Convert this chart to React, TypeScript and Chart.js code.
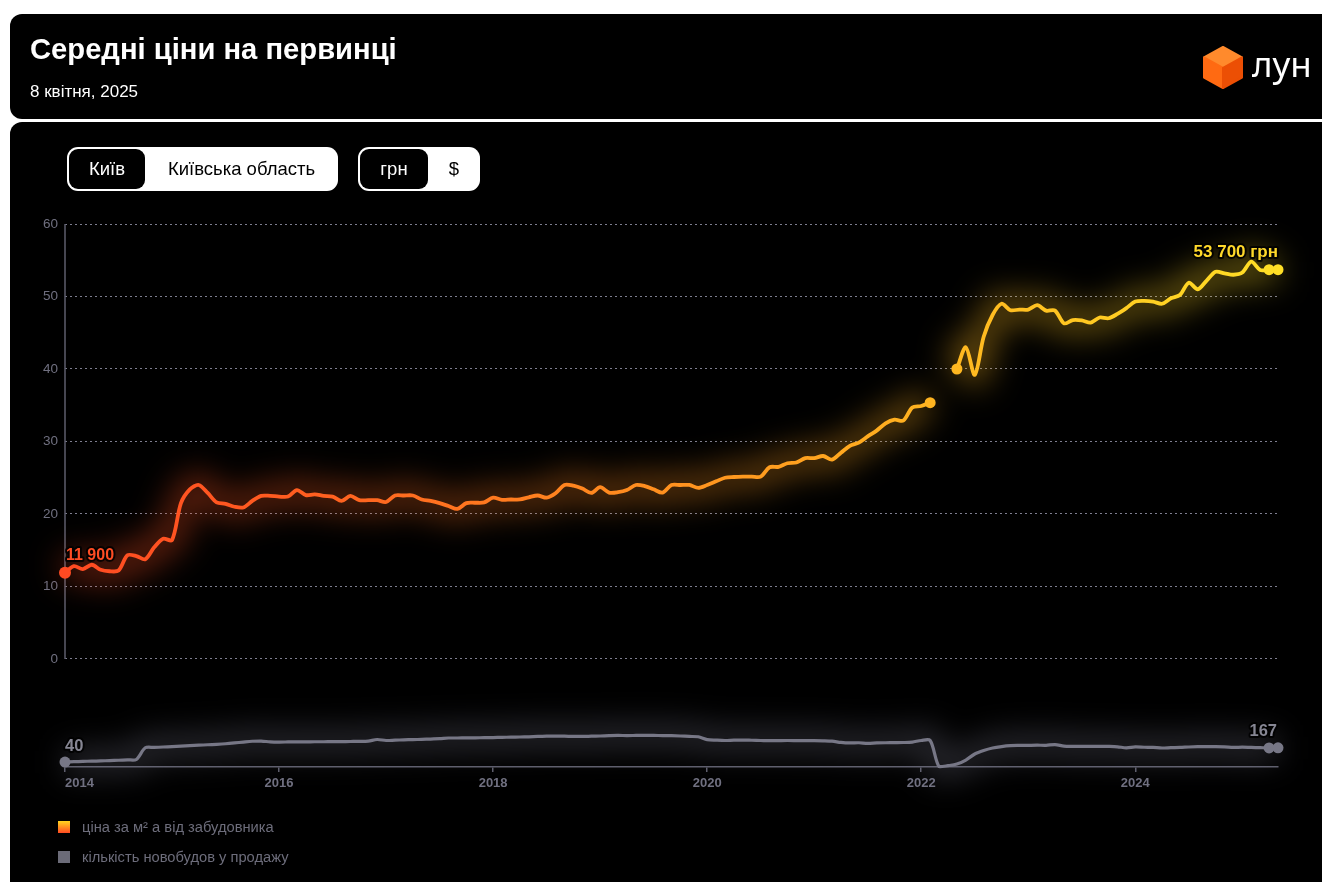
import React, { useEffect, useRef } from 'react';
import { Chart, registerables } from 'chart.js';

Chart.register(...registerables);

const FONT = "'Liberation Sans', Arial, Helvetica, sans-serif";

// ---- data ----
const xTickIndex = [0, 24, 48, 72, 96, 120];
const xTickLabels = ['2014', '2016', '2018', '2020', '2022', '2024'];
const yTicks = [0, 10, 20, 30, 40, 50, 60];

// average price, thousand UAH per m², monthly from Jan 2014
const priceThousands: (number | null)[] = [
  11.9, 12.8, 12.4, 13.0, 12.3, 12.1, 12.2, 14.3, 14.2, 13.75,
  15.4, 16.6, 16.4, 21.5, 23.4, 24.0, 22.9, 21.6, 21.4, 21.0,
  20.9, 21.8, 22.5, 22.5, 22.4, 22.4, 23.3, 22.6, 22.7, 22.5,
  22.4, 21.8, 22.5, 21.9, 21.9, 21.9, 21.65, 22.55, 22.55, 22.55,
  22.0, 21.8, 21.5, 21.1, 20.7, 21.5, 21.55, 21.6, 22.25, 21.95,
  22.0, 22.0, 22.3, 22.55, 22.25, 22.85, 24.0, 23.9, 23.5, 22.9,
  23.7, 22.95, 23.0, 23.3, 24.0, 23.85, 23.4, 22.95, 24.0, 24.0,
  24.0, 23.6, 24.0, 24.5, 25.0, 25.1, 25.15, 25.15, 25.15, 26.45,
  26.5, 27.0, 27.1, 27.7, 27.7, 28.0, 27.5, 28.45, 29.4, 29.85,
  30.7, 31.5, 32.5, 33.0, 32.9, 34.7, 34.9, 35.35, null, null,
  40.0, 43.0, 39.2, 44.45, 47.45, 49.0, 48.1, 48.2, 48.2, 48.8,
  48.05, 48.05, 46.3, 46.75, 46.7, 46.4, 47.1, 47.0, 47.6, 48.4,
  49.3, 49.4, 49.3, 49.0, 49.75, 50.2, 51.9, 51.0, 52.2, 53.4,
  53.2, 53.0, 53.3, 54.8, 53.65, 53.7, 53.7,
];

// number of new buildings on sale
const listings: number[] = [
  40, 43, 46, 48, 50, 53, 56, 60, 63, 167,
  170, 174, 178, 182, 186, 190, 194, 198, 203, 210,
  218, 225, 227, 220, 218, 219, 220, 220, 221, 221,
  222, 222, 223, 224, 227, 241, 232, 235, 238, 240,
  242, 245, 248, 254, 254, 255, 256, 257, 258, 260,
  262, 263, 265, 268, 270, 271, 270, 268, 268, 270,
  272, 275, 277, 276, 277, 278, 277, 276, 275, 272,
  268, 265, 240, 235, 232, 235, 236, 234, 232, 230,
  231, 232, 231, 230, 230, 229, 226, 215, 210, 212,
  206, 210, 212, 213, 214, 218, 232, 232, 0, 8,
  22, 58, 112, 143, 165, 178, 186, 188, 189, 190,
  189, 196, 182, 180, 179, 179, 180, 179, 176, 167,
  175, 172, 170, 165, 168, 170, 174, 177, 178, 178,
  176, 170, 173, 170, 168, 166, 167,
];

const legendLabels = ['ціна за м² а від забудовника', 'кількість новобудов у продажу'];

// ---- styles ----
const PRICE_STOPS: [number, string][] = [
  [0, '#ff4a22'], [0.2, '#ff5e20'], [0.4, '#ff821f'], [0.6, '#ffa01f'],
  [0.72, '#ffb520'], [0.86, '#ffcb22'], [1, '#ffdf26'],
];
const GREY_LINE = '#777786';
const AXIS = '#5e5e6c';
const TICK_TEXT = '#707080';

function rgba(hex: string, a: number) {
  const n = parseInt(hex.slice(1), 16);
  return `rgba(${(n >> 16) & 255},${(n >> 8) & 255},${n & 255},${a})`;
}

function priceGradient(chart: any, alpha: number) {
  const area = chart.chartArea;
  if (!area) return rgba('#ff8a1f', alpha);
  const g = chart.ctx.createLinearGradient(area.left, 0, area.right, 0);
  PRICE_STOPS.forEach(([o, c]) => g.addColorStop(o, rgba(c, alpha)));
  return g;
}

function fmtThousands(n: number) {
  return String(Math.round(n)).replace(/\B(?=(\d{3})+(?!\d))/g, ' ');
}

function isMarker(arr: (number | null)[], i: number) {
  const v = arr[i];
  if (v == null) return false;
  const last = arr.length - 1;
  return i === 0 || i === last || i === last - 1 || arr[i - 1] == null || arr[i + 1] == null;
}

function drawLabel(ctx: CanvasRenderingContext2D, text: string, x: number, y: number, color: string, align: CanvasTextAlign, size: number) {
  ctx.save();
  ctx.font = `bold ${size}px ${FONT}`;
  ctx.textAlign = align;
  ctx.textBaseline = 'alphabetic';
  ctx.lineJoin = 'round';
  ctx.lineWidth = 4;
  ctx.strokeStyle = 'rgba(0,0,0,0.85)';
  ctx.strokeText(text, x, y);
  ctx.fillStyle = color;
  ctx.fillText(text, x, y);
  ctx.restore();
}

const glowPlugin = {
  id: 'glow',
  beforeDatasetDraw(chart: any, args: any) {
    const ds = chart.data.datasets[args.index];
    if (ds.glowBlur) {
      chart.ctx.save();
      chart.ctx.filter = `blur(${ds.glowBlur}px)`;
    }
  },
  afterDatasetDraw(chart: any, args: any) {
    const ds = chart.data.datasets[args.index];
    if (ds.glowBlur) chart.ctx.restore();
  },
};

const decorPlugin = {
  id: 'decor',
  beforeDatasetsDraw(chart: any) {
    const { ctx, chartArea, scales } = chart;
    const y = scales.y;
    ctx.save();
    ctx.strokeStyle = AXIS;
    ctx.lineWidth = 1.5;
    ctx.beginPath();
    ctx.moveTo(chartArea.left, y.getPixelForValue(yTicks[yTicks.length - 1]));
    ctx.lineTo(chartArea.left, y.getPixelForValue(yTicks[0]));
    ctx.stroke();
    ctx.restore();
  },
  afterDatasetsDraw(chart: any) {
    const { ctx, scales } = chart;
    const { x, y, y2 } = scales;
    const last = priceThousands.length - 1;
    const p0 = priceThousands[0] as number;
    const pl = priceThousands[last] as number;
    drawLabel(ctx, fmtThousands(p0 * 1000), x.getPixelForValue(0) + 1, y.getPixelForValue(p0) - 13, '#ff4d24', 'left', 16);
    drawLabel(ctx, fmtThousands(pl * 1000) + ' грн', x.getPixelForValue(last), y.getPixelForValue(pl) - 13, '#ffd92a', 'right', 17);
    const l0 = listings[0];
    const ll = listings[listings.length - 1];
    drawLabel(ctx, String(l0), x.getPixelForValue(0), y2.getPixelForValue(l0) - 11, '#868693', 'left', 16.5);
    drawLabel(ctx, String(ll), x.getPixelForValue(listings.length - 1) - 1, y2.getPixelForValue(ll) - 12, '#868693', 'right', 16.5);
  },
};

function ChartCanvas() {
  const ref = useRef<HTMLCanvasElement | null>(null);
  useEffect(() => {
    if (!ref.current) return;
    const last = priceThousands.length - 1;
    const pricePts = priceThousands.map((v, i) => ({ x: i, y: v }));
    const listPts = listings.map((v, i) => ({ x: i, y: v }));
    const chart = new Chart(ref.current, {
      type: 'line',
      data: {
        datasets: [
          {
            data: pricePts as any,
            yAxisID: 'y',
            borderColor: (c: any) => priceGradient(c.chart, 0.4),
            borderWidth: 24,
            pointRadius: 0,
            tension: 0.3,
            spanGaps: false,
            clip: false as any,
            order: 4,
            glowBlur: 16,
          } as any,
          {
            data: listPts as any,
            yAxisID: 'y2',
            borderColor: 'rgba(120,120,140,0.32)',
            borderWidth: 26,
            pointRadius: 0,
            tension: 0.3,
            clip: false as any,
            order: 3,
            glowBlur: 15,
          } as any,
          {
            data: listPts as any,
            yAxisID: 'y2',
            borderColor: GREY_LINE,
            borderWidth: 3.2,
            tension: 0.3,
            pointRadius: (c: any) => (isMarker(listings, c.dataIndex) ? 5.5 : 0),
            pointBackgroundColor: GREY_LINE,
            pointBorderWidth: 0,
            clip: false as any,
            order: 2,
          } as any,
          {
            data: pricePts as any,
            yAxisID: 'y',
            borderColor: (c: any) => priceGradient(c.chart, 1),
            borderWidth: 3.8,
            tension: 0.3,
            spanGaps: false,
            pointRadius: (c: any) => (isMarker(priceThousands, c.dataIndex) ? (c.dataIndex === 0 ? 6 : 5.5) : 0),
            pointBackgroundColor: (c: any) => priceGradient(c.chart, 1),
            pointBorderWidth: 0,
            clip: false as any,
            order: 1,
          } as any,
        ],
      },
      options: {
        responsive: false,
        animation: false,
        events: [],
        layout: { padding: { left: 15, right: 44, top: 224, bottom: 85 } },
        plugins: { legend: { display: false }, tooltip: { enabled: false } },
        scales: {
          x: {
            type: 'linear',
            min: 0,
            max: last,
            afterBuildTicks: (s: any) => {
              s.ticks = [...xTickIndex, last].map((v) => ({ value: v }));
            },
            afterFit: (s: any) => {
              s.height = 30;
            },
            ticks: {
              autoSkip: false,
              maxRotation: 0,
              align: 'inner' as any,
              padding: 4,
              color: TICK_TEXT,
              font: { family: FONT, size: 13, weight: 'bold' },
              callback: (v: any) => {
                const k = xTickIndex.indexOf(Number(v));
                return k >= 0 ? xTickLabels[k] : '';
              },
            },
            grid: {
              drawOnChartArea: false,
              drawTicks: true,
              tickLength: 5,
              lineWidth: 1.5,
              color: AXIS,
              tickColor: (c: any) => (c.tick && c.tick.value === last ? 'rgba(0,0,0,0)' : AXIS),
            },
            border: { display: true, color: AXIS, width: 1.5 },
          },
          y: {
            min: -14.9,
            max: 60,
            afterBuildTicks: (s: any) => {
              s.ticks = yTicks.map((v) => ({ value: v }));
            },
            afterFit: (s: any) => {
              s.width = 50;
            },
            ticks: {
              padding: 7,
              color: TICK_TEXT,
              font: { family: FONT, size: 13.5 },
            },
            grid: {
              drawTicks: false,
              color: 'rgba(140,140,158,0.9)',
              lineWidth: 1,
            },
            border: { display: false, dash: [2, 3] },
          },
          y2: {
            display: false,
            min: -4,
            max: 4830,
          },
        },
      } as any,
      plugins: [glowPlugin, decorPlugin],
    });
    return () => chart.destroy();
  }, []);
  return (
    <canvas
      ref={ref}
      width={1322}
      height={882}
      style={{ position: 'absolute', left: 0, top: 0, width: 1322, height: 882 }}
    />
  );
}

function Cube() {
  return (
    <svg width={40} height={43} viewBox="0 0 40 43" style={{ position: 'absolute', left: 1203, top: 46 }}>
      <g strokeLinejoin="round" strokeWidth={2}>
        <polygon points="20,1 39,11.5 20,22 1,11.5" fill="#ff8a2c" stroke="#ff8a2c" />
        <polygon points="1,11.5 20,22 20,42 1,31.5" fill="#ff6a12" stroke="#ff6a12" />
        <polygon points="20,22 39,11.5 39,31.5 20,42" fill="#ec4f04" stroke="#ec4f04" />
      </g>
    </svg>
  );
}

export default function App() {
  const abs = (s: React.CSSProperties): React.CSSProperties => ({ position: 'absolute', ...s });
  const btnText: React.CSSProperties = { fontSize: 18.5, display: 'flex', alignItems: 'center', justifyContent: 'center', whiteSpace: 'nowrap' };
  return (
    <div style={abs({ left: 0, top: 0, width: 1322, height: 882, overflow: 'hidden', background: '#fff', fontFamily: FONT })}>
      <div style={abs({ left: 10, top: 14, width: 1340, height: 105, background: '#000', borderRadius: 12 })} />
      <div style={abs({ left: 10, top: 122, width: 1340, height: 800, background: '#000', borderRadius: 12 })} />
      <ChartCanvas />
      <div style={abs({ left: 30, top: 35, fontSize: 29.2, lineHeight: '29px', fontWeight: 700, color: '#fff', whiteSpace: 'nowrap' })}>
        Середні ціни на первинці
      </div>
      <div style={abs({ left: 30, top: 83, fontSize: 17, lineHeight: '17px', color: '#fff', whiteSpace: 'nowrap' })}>
        8 квітня, 2025
      </div>
      <Cube />
      <div style={abs({ left: 1252, top: 46, fontSize: 35, lineHeight: '35px', color: '#fff', fontFamily: "'Noto Sans', 'Open Sans', sans-serif", whiteSpace: 'nowrap' })}>
        лун
      </div>
      <div style={abs({ left: 67, top: 147, width: 271, height: 44, background: '#fff', borderRadius: 11 })}>
        <div style={abs({ left: 2, top: 2, width: 76, height: 40, background: '#000', borderRadius: 9, color: '#fff', ...btnText })}>
          Київ
        </div>
        <div style={abs({ left: 78, top: 0, width: 193, height: 44, color: '#000', ...btnText })}>
          Київська область
        </div>
      </div>
      <div style={abs({ left: 358, top: 147, width: 122, height: 44, background: '#fff', borderRadius: 11 })}>
        <div style={abs({ left: 2, top: 2, width: 68, height: 40, background: '#000', borderRadius: 9, color: '#fff', ...btnText })}>
          грн
        </div>
        <div style={abs({ left: 70, top: 0, width: 52, height: 44, color: '#000', ...btnText })}>
          $
        </div>
      </div>
      <div style={abs({ left: 58, top: 821, width: 12, height: 12, background: 'linear-gradient(#ffd51f, #ff4a22)' })} />
      <div style={abs({ left: 82, top: 818, fontSize: 14.7, lineHeight: '18px', color: '#6d6d7b', whiteSpace: 'nowrap' })}>
        {legendLabels[0]}
      </div>
      <div style={abs({ left: 58, top: 851, width: 12, height: 12, background: '#6b6b78' })} />
      <div style={abs({ left: 82, top: 848, fontSize: 14.7, lineHeight: '18px', color: '#6d6d7b', whiteSpace: 'nowrap' })}>
        {legendLabels[1]}
      </div>
    </div>
  );
}
